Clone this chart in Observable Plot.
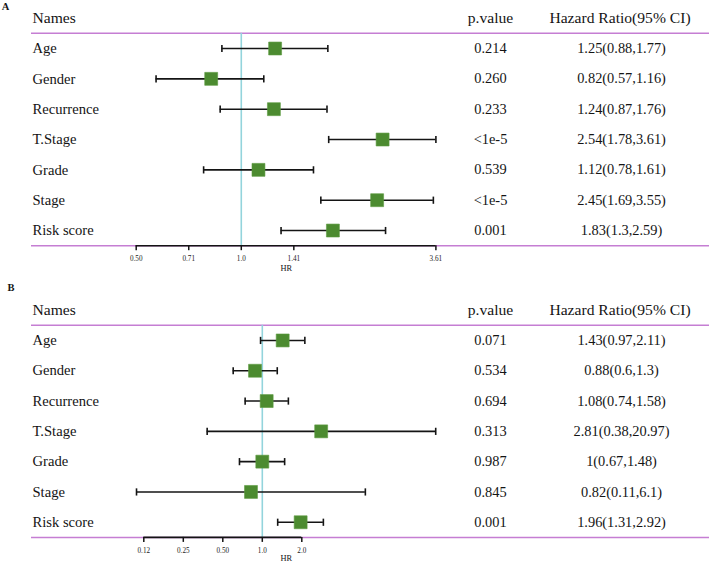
<!DOCTYPE html>
<html><head><meta charset="utf-8">
<script src="https://cdn.jsdelivr.net/npm/d3@7"></script>
<script src="https://cdn.jsdelivr.net/npm/@observablehq/plot@0.6"></script>
<style>body{margin:0;background:#fff} #chart svg{display:block}</style>
</head><body><div id="chart"></div>
<script>
// ---- data ----
const names = ["Age", "Gender", "Recurrence", "T.Stage", "Grade", "Stage", "Risk score"];
const headerLabels = ["Names", "p.value", "Hazard Ratio(95% CI)"];

const pA  = ["0.214", "0.260", "0.233", "<1e-5", "0.539", "<1e-5", "0.001"];
const hrA = [1.25, 0.82, 1.24, 2.54, 1.12, 2.45, 1.83];
const loA = [0.88, 0.57, 0.87, 1.78, 0.78, 1.69, 1.3];
const hiA = [1.77, 1.16, 1.76, 3.61, 1.61, 3.55, 2.59];
const ticksA = [0.5, 0.7071, 1, 1.4142, 3.61];
const tickLabelsA = ["0.50", "0.71", "1.0", "1.41", "3.61"];

const pB  = ["0.071", "0.534", "0.694", "0.313", "0.987", "0.845", "0.001"];
const hrB = [1.43, 0.88, 1.08, 2.81, 1, 0.82, 1.96];
const loB = [0.97, 0.6, 0.74, 0.38, 0.67, 0.11, 1.31];
const hiB = [2.11, 1.3, 1.58, 20.97, 1.48, 6.1, 2.92];
const ticksB = [0.125, 0.25, 0.5, 1, 2];
const tickLabelsB = ["0.12", "0.25", "0.50", "1.0", "2.0"];

// ---- drawing ----
const serif = "'Liberation Serif', 'Times New Roman', serif";
const vbar = {draw(ctx, size) { const h = Math.sqrt(size / Math.PI); ctx.moveTo(0, -h); ctx.lineTo(0, h); }};
const ink = "#141414";

function panel({letter, hr, lo, hi, pv, ticks, tickLabels, xRange, height, marginTop, marginBottom, letterDx, letterDy, hrDy}) {
  const rows = names.map((n, i) => ({name: n, y: i + 1, hr: hr[i], lo: lo[i], hi: hi[i], p: pv[i], ci: `${hr[i]}(${lo[i]},${hi[i]})`}));
  const tickRows = ticks.map((t, i) => ({t, label: tickLabels[i]}));
  const n = names.length;
  const xDomain = [ticks[0], ticks[ticks.length - 1]];
  const ml = 31;
  return Plot.plot({
    width: 709, height, marginLeft: ml, marginRight: 0, marginTop, marginBottom,
    style: {fontFamily: serif, background: "white", overflow: "visible"},
    x: {type: "log", base: 2, domain: xDomain, range: xRange},
    y: {domain: [-0.5, n + 0.5], reverse: true, axis: null},
    marks: [
      Plot.ruleY([0.5, n + 0.5], {stroke: "#c57ed3", strokeWidth: 1.5}),
      Plot.ruleX([1], {y1: 0.5, y2: n + 0.5, stroke: "#93d4dc", strokeWidth: 1.6}),
      Plot.ruleY([n + 0.5], {x1: xDomain[0], x2: xDomain[1], stroke: ink, strokeWidth: 1.6}),
      Plot.axisX({ticks, tickFormat: null, text: null, tickSize: 5, color: ink, strokeWidth: 1.5, label: null}),
      Plot.text(tickRows, {x: "t", text: "label", frameAnchor: "bottom", dy: 13, lineAnchor: "middle",
        textAnchor: "middle", fontSize: 7.2, fill: "#222"}),
      Plot.text(["HR"], {frameAnchor: "bottom-left", dx: 285.7 - ml, dy: hrDy, lineAnchor: "middle",
        textAnchor: "middle", fontSize: 8.4, fill: ink}),
      Plot.ruleY(rows, {y: "y", x1: "lo", x2: "hi", stroke: ink, strokeWidth: 1.6}),
      Plot.dot(rows, {x: "lo", y: "y", symbol: vbar, r: 3.6, stroke: ink, fill: "none", strokeWidth: 1.6}),
      Plot.dot(rows, {x: "hi", y: "y", symbol: vbar, r: 3.6, stroke: ink, fill: "none", strokeWidth: 1.6}),
      Plot.dot(rows, {x: "hr", y: "y", symbol: "square", r: 7.3, fill: "#4c8b30", stroke: "#5c9a40", strokeWidth: 0.6}),
      Plot.text(rows, {y: "y", text: "name", frameAnchor: "left", textAnchor: "start", dx: 1, fontSize: 14.6, fill: ink}),
      Plot.text(rows, {y: "y", text: "p", frameAnchor: "left", textAnchor: "middle", dx: 490 - ml, fontSize: 14.4, fill: ink}),
      Plot.text(rows, {y: "y", text: "ci", frameAnchor: "left", textAnchor: "middle", dx: 621 - ml, fontSize: 14.4, fill: ink}),
      Plot.text([headerLabels[0]], {y: () => 0, frameAnchor: "left", textAnchor: "start", dx: 1, fontSize: 15.6, fill: ink}),
      Plot.text([headerLabels[1]], {y: () => 0, frameAnchor: "left", textAnchor: "middle", dx: 490 - ml, fontSize: 15.6, fill: ink}),
      Plot.text([headerLabels[2]], {y: () => 0, frameAnchor: "left", textAnchor: "middle", dx: 619.5 - ml, fontSize: 15.6, fill: ink}),
      Plot.text([letter], {frameAnchor: "top-left", dx: letterDx, dy: letterDy, lineAnchor: "middle", textAnchor: "middle",
        fontSize: 10.5, fontWeight: "bold", fill: ink})
    ]
  });
}

const chart = document.getElementById("chart");
chart.append(panel({letter: "A", hr: hrA, lo: loA, hi: hiA, pv: pA, ticks: ticksA, tickLabels: tickLabelsA,
  xRange: [135.7, 435.4], height: 282, marginTop: 2.5, marginBottom: 36.8, letterDx: -26, letterDy: 3.5, hrDy: 22.5}));
chart.append(panel({letter: "B", hr: hrB, lo: loB, hi: hiB, pv: pB, ticks: ticksB, tickLabels: tickLabelsB,
  xRange: [143.3, 301.3], height: 283, marginTop: 12.5, marginBottom: 28.1, letterDx: -20.5, letterDy: -7.5, hrDy: 21.3}));
</script>
</body></html>
